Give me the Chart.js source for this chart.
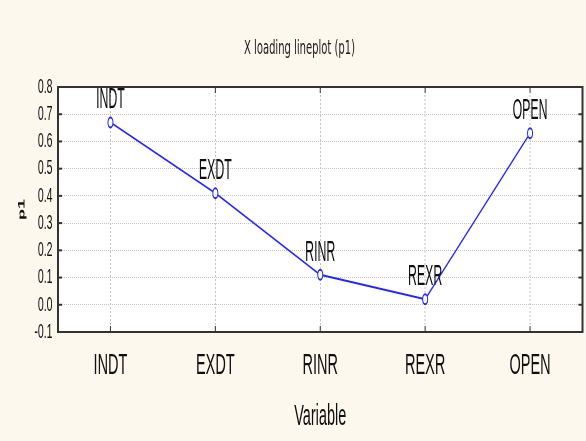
<!DOCTYPE html>
<html>
<head>
<meta charset="utf-8">
<script src="https://cdn.jsdelivr.net/npm/chart.js@4/dist/chart.umd.min.js"></script>
<style>
  html, body { margin: 0; padding: 0; overflow: hidden; background: #fdf8ee; }
  /* the plot is laid out twice as wide and squeezed horizontally to its final width */
  #wrap { width: 1172px; height: 441px; transform: scaleX(0.5); transform-origin: 0 0; }
</style>
</head>
<body>
<div id="wrap"><canvas id="c" width="1172" height="441"></canvas></div>
<script>
// Loadings of the first component (p1) for each variable
const categories = ['INDT', 'EXDT', 'RINR', 'REXR', 'OPEN'];
const p1Values = [0.67, 0.41, 0.11, 0.02, 0.63];

// Value axis range and step
const yMin = -0.1;
const yMax = 0.8;
const yStep = 0.1;

const chartTitle = 'X loading lineplot (p1)';
const xAxisTitle = 'Variable';
const yAxisTitle = 'p1';

const narrowFont = "'Liberation Sans Narrow', 'Arial Narrow', 'Liberation Sans', sans-serif";
const plainFont = "'Liberation Sans', Arial, sans-serif";
const wideFont = "'DejaVu Sans', sans-serif";
const textColor = '#101010';
const gridColor = '#c4c4c4';

// White plot area, framed box with inward tick marks on all four sides
const plotFrame = {
  id: 'plotFrame',
  beforeDraw(chart) {
    const { ctx, chartArea: a } = chart;
    ctx.save();
    ctx.fillStyle = '#ffffff';
    ctx.fillRect(a.left, a.top, a.right - a.left, a.bottom - a.top);
    ctx.restore();
  },
  beforeDatasetsDraw(chart) {
    const { ctx, chartArea: a, scales: { x, y } } = chart;
    const seg = (x1, y1, x2, y2) => { ctx.beginPath(); ctx.moveTo(x1, y1); ctx.lineTo(x2, y2); ctx.stroke(); };
    ctx.save();
    ctx.strokeStyle = '#333333';
    ctx.lineWidth = 2;
    x.ticks.forEach((t, i) => {
      const px = x.getPixelForTick(i);
      seg(px, a.top, px, a.top + 6);
      seg(px, a.bottom, px, a.bottom - 6);
    });
    y.ticks.forEach((t, i) => {
      const py = y.getPixelForTick(i);
      seg(a.left, py, a.left + 8, py);
      seg(a.right, py, a.right - 8, py);
    });
    ctx.lineWidth = 2;
    seg(a.left, a.top, a.right, a.top);
    seg(a.left, a.bottom, a.right, a.bottom);
    ctx.lineWidth = 4;
    seg(a.left, a.top - 1, a.left, a.bottom + 1);
    seg(a.right, a.top - 1, a.right, a.bottom + 1);
    ctx.restore();
  }
};

// Variable name written just above each point
const pointNames = {
  id: 'pointNames',
  afterDatasetsDraw(chart) {
    const { ctx } = chart;
    const meta = chart.getDatasetMeta(0);
    ctx.save();
    ctx.fillStyle = textColor;
    ctx.font = '29px ' + narrowFont;
    ctx.textAlign = 'center';
    ctx.textBaseline = 'alphabetic';
    meta.data.forEach((pt, i) => {
      ctx.save();
      ctx.translate(pt.x, pt.y - 14);
      ctx.scale(0.85, 1);
      ctx.fillText(categories[i], 0, 0);
      ctx.restore();
    });
    ctx.restore();
  }
};

new Chart(document.getElementById('c'), {
  type: 'line',
  data: {
    labels: categories,
    datasets: [{
      label: yAxisTitle,
      data: p1Values,
      borderColor: '#2323ff',
      borderWidth: 2,
      tension: 0,
      pointRadius: 5,
      pointBorderWidth: 2,
      pointBorderColor: '#2323ff',
      pointBackgroundColor: '#ffffff'
    }]
  },
  options: {
    responsive: false,
    devicePixelRatio: 1,
    animation: false,
    events: [],
    layout: { padding: { left: 28, right: 2, top: 0, bottom: 0 } },
    plugins: {
      legend: { display: false },
      tooltip: { enabled: false },
      title: {
        display: true,
        text: chartTitle,
        color: '#1c1c1c',
        font: { family: wideFont, size: 20, weight: 'normal' },
        padding: { top: 37, bottom: 26 }
      }
    },
    scales: {
      x: {
        type: 'category',
        offset: true,
        grid: { offset: false, color: gridColor, lineWidth: 2, drawTicks: false },
        border: { display: false, dash: [2, 2] },
        ticks: {
          color: textColor,
          font: { family: narrowFont, size: 29 },
          padding: 17,
          maxRotation: 0,
          autoSkip: false
        },
        title: {
          display: true,
          text: xAxisTitle,
          color: textColor,
          font: { family: narrowFont, size: 29 },
          padding: { top: 0, bottom: 7 }
        },
        afterFit(scale) { scale.height = 109; }
      },
      y: {
        min: yMin,
        max: yMax,
        grid: { color: gridColor, lineWidth: 1, drawTicks: false },
        border: { display: false, dash: [2, 2] },
        ticks: {
          stepSize: yStep,
          autoSkip: false,
          color: textColor,
          font: { family: plainFont, size: 21 },
          padding: 11,
          callback: (v) => Number(v).toFixed(1)
        },
        title: {
          display: true,
          text: yAxisTitle,
          color: textColor,
          font: { family: plainFont, size: 18, weight: 'bold' },
          padding: { top: 5, bottom: 0 }
        },
        afterFit(scale) { scale.width = 88; }
      }
    }
  },
  plugins: [plotFrame, pointNames]
});
</script>
</body>
</html>
